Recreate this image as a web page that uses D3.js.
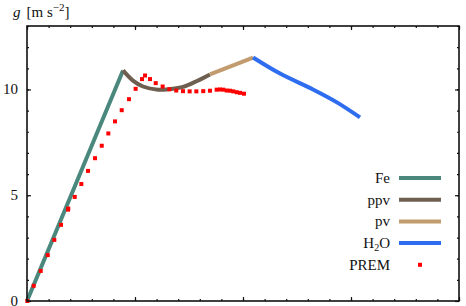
<!DOCTYPE html>
<html>
<head>
<meta charset="utf-8">
<script src="https://cdn.jsdelivr.net/npm/d3@7"></script>
<style>
body { margin: 0; background: #fff; }
text { font-family: "Liberation Serif", "DejaVu Serif", serif; fill: #111; }
</style>
</head>
<body>
<div id="chart"></div>
<script>
// curves of g(r), x in arbitrary radius units
var feData = [[0, 0], [0.445, 5.45], [0.889, 10.90]];
var ppvData = [[0.889, 10.90], [0.981, 10.42], [1.074, 10.14], [1.213, 9.99], [1.324, 10.02],
	[1.444, 10.12], [1.574, 10.40], [1.694, 10.71]];
var pvData = [[1.694, 10.71], [2.093, 11.51]];
var h2oData = [[2.093, 11.51], [2.343, 10.75], [2.648, 10.00], [2.870, 9.39], [3.083, 8.68]];
var premData = [[0.003, 0.00], [0.062, 0.72], [0.127, 1.42], [0.192, 2.17], [0.253, 2.89], [0.315, 3.60],
	[0.380, 4.32], [0.382, 4.37], [0.442, 4.92], [0.503, 5.53], [0.565, 6.15], [0.630, 6.75], [0.692, 7.34],
	[0.753, 7.92], [0.815, 8.49], [0.877, 9.02], [0.944, 9.54], [1.006, 10.03], [1.065, 10.49], [1.093, 10.66],
	[1.139, 10.49], [1.192, 10.30], [1.256, 10.14], [1.318, 10.01], [1.382, 9.95], [1.444, 9.92], [1.506, 9.91],
	[1.568, 9.91], [1.632, 9.92], [1.694, 9.94], [1.756, 9.99], [1.787, 10.00], [1.818, 9.99], [1.849, 9.95],
	[1.880, 9.94], [1.910, 9.91], [1.942, 9.87], [1.972, 9.84], [2.009, 9.80]];

var yLabels = [0, 5, 10];
var legendNames = ["Fe", "ppv", "pv", "H2O", "PREM"];
var colors = ["#4a877c", "#6e5f50", "#c29c6e", "#2f6df0", "#ff0000"];

var svg = d3.select("#chart").append("svg")
	.attr("width", 466)
	.attr("height", 306);

var pL = 27, pR = 459, pT = 26, pB = 301;
var x = d3.scaleLinear().domain([0, 4]).range([pL, pR]);
var y = d3.scaleLinear().domain([0, 13]).range([pB, pT]);

// ticks (inward), minor + major
function tickAxis(axisFn, scale, vals, size, tr) {
	svg.append("g")
		.attr("transform", tr)
		.call(axisFn(scale).tickValues(vals).tickSize(size).tickFormat(""))
		.call(function(g){ g.select(".domain").remove(); g.selectAll("line").attr("stroke", "#111").attr("stroke-width", 1.2); });
}
var xMinor = d3.range(0, 4.001, 0.2), xMajor = [0, 1, 2, 3, 4];
var yMinor = d3.range(0, 13.001, 1);
tickAxis(d3.axisTop, x, xMinor, 2, "translate(0," + pB + ")");
tickAxis(d3.axisTop, x, xMajor, 4, "translate(0," + pB + ")");
tickAxis(d3.axisBottom, x, xMinor, 2, "translate(0," + pT + ")");
tickAxis(d3.axisBottom, x, xMajor, 4, "translate(0," + pT + ")");
tickAxis(d3.axisRight, y, yMinor, 2, "translate(" + pL + ",0)");
tickAxis(d3.axisRight, y, yLabels, 4, "translate(" + pL + ",0)");
tickAxis(d3.axisLeft, y, yMinor, 2, "translate(" + pR + ",0)");
tickAxis(d3.axisLeft, y, yLabels, 4, "translate(" + pR + ",0)");

svg.selectAll("text.ylab").data(yLabels)
	.enter().append("text")
	.attr("class", "ylab")
	.attr("x", pL - 9)
	.attr("y", function(d){ return y(d) + 5; })
	.attr("text-anchor", "end")
	.attr("font-size", 15)
	.text(function(d){ return d; });

// y label
var yl = svg.append("text").attr("x", 13).attr("y", 17).attr("font-size", 15);
yl.append("tspan").attr("font-style", "italic").text("g");
yl.append("tspan").attr("dx", 6).text("[m s");
yl.append("tspan").attr("dy", -6).attr("font-size", 11).text("\u22122");
yl.append("tspan").attr("dy", 6).text("]");

var line = d3.line()
	.x(function(d){ return x(d[0]); })
	.y(function(d){ return y(d[1]); })
	.curve(d3.curveCatmullRom);

var series = [feData, ppvData, pvData, h2oData];
svg.selectAll("path.curve").data(series)
	.enter().append("path")
	.attr("class", "curve")
	.attr("d", line)
	.attr("fill", "none")
	.attr("stroke", function(d, i){ return colors[i]; })
	.attr("stroke-width", 4);

svg.selectAll("rect.prem").data(premData)
	.enter().append("rect")
	.attr("class", "prem")
	.attr("x", function(d){ return x(d[0]) - 2; })
	.attr("y", function(d){ return y(d[1]) - 2; })
	.attr("width", 4)
	.attr("height", 4)
	.attr("fill", colors[4]);

// frame
svg.append("rect")
	.attr("x", pL).attr("y", pT)
	.attr("width", pR - pL).attr("height", pB - pT)
	.attr("fill", "none").attr("stroke", "#111").attr("stroke-width", 1.6);

// legend
var leg = svg.selectAll("g.leg").data(legendNames)
	.enter().append("g")
	.attr("class", "leg")
	.attr("transform", function(d, i){ return "translate(390," + (178 + i * 21.7) + ")"; });
leg.append("text")
	.attr("x", 0).attr("y", 5)
	.attr("text-anchor", "end")
	.attr("font-size", 15)
	.each(function(d){
		var t = d3.select(this);
		if (d === "H2O") {
			t.append("tspan").text("H");
			t.append("tspan").attr("dy", 3).attr("font-size", 10).text("2");
			t.append("tspan").attr("dy", -3).text("O");
		} else t.text(d);
	});
leg.filter(function(d, i){ return i < 4; }).append("line")
	.attr("x1", 9).attr("x2", 51).attr("y1", 0).attr("y2", 0)
	.attr("stroke", function(d, i){ return colors[i]; })
	.attr("stroke-width", 4);
leg.filter(function(d, i){ return i === 4; }).append("rect")
	.attr("x", 28).attr("y", -2).attr("width", 4).attr("height", 4)
	.attr("fill", colors[4]);
</script>
</body>
</html>
